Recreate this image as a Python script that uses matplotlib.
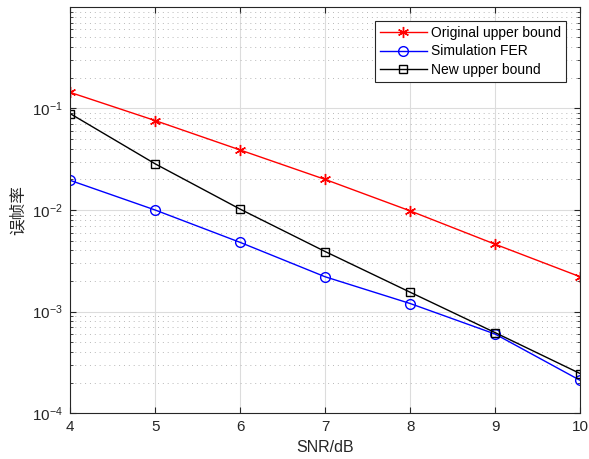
import numpy as np
import matplotlib
matplotlib.use("Agg")
import matplotlib.pyplot as plt
from matplotlib.ticker import LogLocator, NullFormatter

plt.rcParams['font.family'] = ['Liberation Sans', 'Noto Sans CJK SC', 'DejaVu Sans']
plt.rcParams['axes.unicode_minus'] = False

snr = [4, 5, 6, 7, 8, 9, 10]
orig_bound = [0.144, 0.076, 0.039, 0.020, 0.0098, 0.0046, 0.0022]
sim_fer = [0.0196, 0.0100, 0.0048, 0.0022, 0.00120, 0.00060, 0.00021]
new_bound = [0.089, 0.0285, 0.0102, 0.0039, 0.00155, 0.00062, 0.000245]
yticks = [1e-4, 1e-3, 1e-2, 1e-1]
ytick_labels = ['$\\mathregular{10^{-4}}$', '$\\mathregular{10^{-3}}$',
                '$\\mathregular{10^{-2}}$', '$\\mathregular{10^{-1}}$']

fig = plt.figure(figsize=(5.89, 4.59), dpi=100)
ax = fig.add_axes([0.119, 0.100, 0.866, 0.885])

ax.semilogy(snr, orig_bound, '-', marker=(6, 2, 0), color='r', lw=1, ms=8, mew=1,
            label='Original upper bound')
ax.semilogy(snr, sim_fer, '-o', color='b', lw=1, ms=7, mfc='none', mew=1, label='Simulation FER')
ax.semilogy(snr, new_bound, '-s', color='k', lw=1, ms=6, mfc='none', mew=1, label='New upper bound')

ax.set_xlim(4, 10)
ax.set_ylim(1e-4, 1)
ax.set_xticks(snr)
ax.yaxis.set_minor_locator(LogLocator(base=10, subs=np.arange(2, 10), numticks=10))
ax.yaxis.set_minor_formatter(NullFormatter())
ax.set_yticks(yticks)
ax.set_yticklabels(ytick_labels)

ax.grid(True, which='major', color='#dcdcdc', lw=0.8, ls='-')
ax.grid(True, which='minor', axis='y', color='#b8b8b8', lw=0.7, ls=(0, (1, 4)))
ax.set_axisbelow(True)

ax.tick_params(which='both', direction='in', top=True, right=True, labelsize=11, colors='#262626')
ax.tick_params(which='major', length=4, pad=5)
ax.tick_params(which='minor', length=2)
for s in ax.spines.values():
    s.set_color('#262626')
    s.set_linewidth(0.8)

ax.set_xlabel('SNR/dB', fontsize=11.5, color='#262626', labelpad=4)
ax.set_ylabel('误帧率', fontsize=12, color='#262626', labelpad=5)

leg = ax.legend(loc='upper right', fontsize=10, fancybox=False, framealpha=1,
                edgecolor='#262626', borderpad=0.35, labelspacing=0.35, handlelength=3.4,
                handletextpad=0.3, bbox_to_anchor=(0.986, 0.983))
leg.get_frame().set_linewidth(0.8)

fig.savefig('out.png', dpi=100)
